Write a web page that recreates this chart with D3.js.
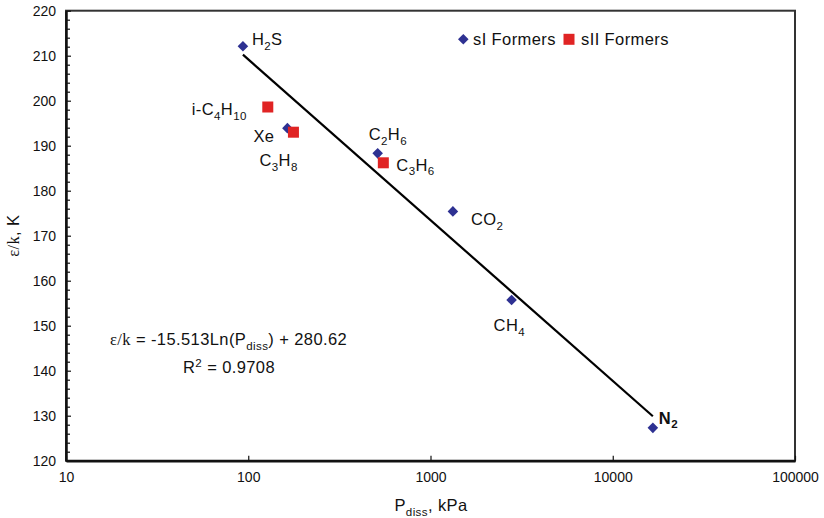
<!DOCTYPE html>
<html>
<head>
<meta charset="utf-8">
<script src="https://cdn.jsdelivr.net/npm/d3@7"></script>
<style>
  body { margin: 0; background: #fff; }
  text { font-family: "Liberation Sans", Arial, sans-serif; fill: #111; }
  .lbl { font-size: 16.5px; letter-spacing: 0.4px; }
</style>
</head>
<body>
<div class="chart"></div>
<script>
const width = 824;
const height = 518;

// sI formers
const sINames = ["H_{2}S", "Xe", "C_{2}H_{6}", "CO_{2}", "CH_{4}", "N_{2}"];
const sIPressure = [93.5, 164, 513, 1327, 2786, 16600];
const sIEpsK = [212.1, 193.9, 188.3, 175.4, 155.7, 127.3];

// sII formers
const sIINames = ["i-C_{4}H_{10}", "C_{3}H_{8}", "C_{3}H_{6}"];
const sIIPressure = [128, 177, 551];
const sIIEpsK = [198.6, 193.0, 186.2];

const seriesNames = ["sI Formers", "sII Formers"];

// log fit
const fitSlope = -15.513;
const fitIntercept = 280.62;
const fitR2 = 0.9708;

const xTicks = [10, 100, 1000, 10000, 100000];
const yTicks = [120, 130, 140, 150, 160, 170, 180, 190, 200, 210, 220];

// label placement relative to each marker (dx, dy, anchor)
const labelOffsets = {
  "H_{2}S": [9, -1, "start"],
  "Xe": [-13, 14, "end"],
  "C_{2}H_{6}": [-9, -13, "start"],
  "CO_{2}": [18, 14, "start"],
  "CH_{4}": [-18, 31, "start"],
  "N_{2}": [6, -4, "start"],
  "i-C_{4}H_{10}": [-21, 8, "end"],
  "C_{3}H_{8}": [-34, 34, "start"],
  "C_{3}H_{6}": [13, 8, "start"]
};

const sI = sINames.map((n, i) => ({name: n, p: sIPressure[i], e: sIEpsK[i]}));
const sII = sIINames.map((n, i) => ({name: n, p: sIIPressure[i], e: sIIEpsK[i]}));

const plotL = 66, plotR = 795, plotT = 10.7, plotB = 460.7;

const svg = d3.select(".chart").append("svg").attr("width", width).attr("height", height);

const x = d3.scaleLog().domain([10, 100000]).range([plotL, plotR]);
const y = d3.scaleLinear().domain([120, 220]).range([plotB, plotT]);

// writes "A_{sub}B^{sup}" as tspans
function rich(sel, str) {
  const re = /([_^])\{([^}]*)\}|([^_^]+)/g;
  let m, cur = 0;
  while ((m = re.exec(str))) {
    const tgt = m[3] ? 0 : (m[1] === "_" ? 4.5 : -6);
    const t = sel.append("tspan").text(m[3] ? m[3] : m[2]);
    if (!m[3]) t.attr("font-size", "0.7em");
    if (tgt !== cur) t.attr("dy", tgt - cur);
    cur = tgt;
  }
}

// frame
svg.append("rect")
  .attr("x", plotL).attr("y", plotT)
  .attr("width", plotR - plotL).attr("height", plotB - plotT)
  .attr("fill", "none").attr("stroke", "#333").attr("stroke-width", 2);

// axes
const yMinor = d3.range(122, 220, 2).filter(v => v % 10 !== 0);
svg.append("g")
  .attr("transform", `translate(${plotL},0)`)
  .call(d3.axisLeft(y).tickValues(yMinor).tickFormat("").tickSizeInner(-4).tickSizeOuter(0))
  .call(g => g.select(".domain").remove())
  .call(g => g.selectAll("line").attr("stroke", "#111").attr("stroke-width", 1.2));

const yAxis = svg.append("g")
  .attr("transform", `translate(${plotL},0)`)
  .call(d3.axisLeft(y).tickValues(yTicks).tickSizeInner(-5).tickSizeOuter(0).tickPadding(10));

const xAxis = svg.append("g")
  .attr("transform", `translate(0,${plotB})`)
  .call(d3.axisBottom(x).tickValues(xTicks).tickFormat(d3.format("d")).tickSizeInner(-5).tickSizeOuter(0).tickPadding(11));

[yAxis, xAxis].forEach(g => {
  g.select(".domain").attr("stroke", "#111").attr("stroke-width", 2.5);
  g.selectAll(".tick line").attr("stroke", "#111").attr("stroke-width", 1.2);
  g.selectAll(".tick text").attr("font-size", 14).attr("font-family", "Liberation Sans, Arial, sans-serif").attr("fill", "#111");
});

// trend line
const all = sI.concat(sII);
const pExt = d3.extent(all, d => d.p);
const fit = p => fitSlope * Math.log(p) + fitIntercept;
svg.append("path")
  .datum(pExt)
  .attr("d", d3.line().x(p => x(p)).y(p => y(fit(p))))
  .attr("stroke", "#000").attr("stroke-width", 2.2).attr("fill", "none");

// markers
const diamond = d3.symbol().type(d3.symbolSquare).size(56);
svg.selectAll(".sI")
  .data(sI)
  .enter()
    .append("path")
    .attr("class", "sI")
    .attr("d", diamond)
    .attr("transform", d => `translate(${x(d.p)},${y(d.e)}) rotate(45)`)
    .attr("fill", "#2e3192");

svg.selectAll(".sII")
  .data(sII)
  .enter()
    .append("rect")
    .attr("class", "sII")
    .attr("x", d => x(d.p) - 5.5)
    .attr("y", d => y(d.e) - 5.5)
    .attr("width", 11).attr("height", 11)
    .attr("fill", "#e02424");

// point labels
all.forEach(d => {
  const o = labelOffsets[d.name];
  const t = svg.append("text")
    .attr("class", "lbl")
    .attr("x", x(d.p) + o[0])
    .attr("y", y(d.e) + o[1])
    .attr("text-anchor", o[2]);
  if (d.name === "N_{2}") t.attr("font-weight", "bold");
  rich(t, d.name);
});

// legend
const legend = svg.append("g");
legend.append("path")
  .attr("d", diamond)
  .attr("transform", "translate(463.3,39.3) rotate(45)")
  .attr("fill", "#2e3192");
legend.append("text").attr("class", "lbl").attr("x", 473).attr("y", 45).text(seriesNames[0]);
legend.append("rect")
  .attr("x", 563.5).attr("y", 33.8).attr("width", 11).attr("height", 11)
  .attr("fill", "#e02424");
legend.append("text").attr("class", "lbl").attr("x", 581).attr("y", 45).text(seriesNames[1]);

// equation
const eq = svg.append("text").attr("class", "lbl").attr("x", 110).attr("y", 345);
eq.append("tspan").attr("font-family", "Liberation Serif, serif").text("ε/k");
rich(eq, ` = ${fitSlope}Ln(P_{diss}) + ${fitIntercept}`);
const r2 = svg.append("text").attr("class", "lbl").attr("x", 183).attr("y", 373);
rich(r2, `R^{2} = ${fitR2}`);

// axis titles
const xt = svg.append("text")
  .attr("class", "lbl")
  .attr("x", 431).attr("y", 511)
  .attr("text-anchor", "middle");
rich(xt, "P_{diss}, kPa");

const yt = svg.append("text")
  .attr("class", "lbl")
  .attr("transform", `translate(19,${(plotT + plotB) / 2}) rotate(-90)`)
  .attr("text-anchor", "middle");
yt.append("tspan").attr("font-family", "Liberation Serif, serif").text("ε/k");
yt.append("tspan").text(", K");
</script>
</body>
</html>
